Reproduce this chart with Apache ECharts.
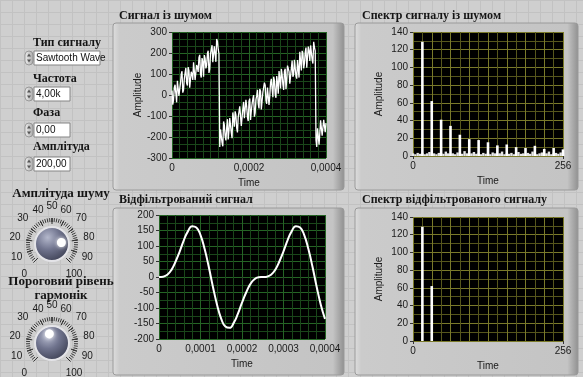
<!DOCTYPE html>
<html>
<head>
<meta charset="utf-8">
<script src="https://cdn.jsdelivr.net/npm/echarts@6/dist/echarts.min.js"></script>
<style>
html, body { margin: 0; padding: 0; }
#main {
    width: 583px; height: 377px;
    background-color: #cfcfcf;
    background-image: linear-gradient(to right, #c2c2c2 1px, transparent 1px),
                      linear-gradient(to bottom, #c2c2c2 1px, transparent 1px);
    background-size: 12px 12px;
}
</style>
</head>
<body>
<div id="main"></div>
<script>
// noisy sawtooth, one sample every 0.000002 s
const noisyStep = 0.000002;
const noisySignal = [
    21, -46, -23, 36, 49, 7, -35, 68, 77, -5, 28, 56, 99, 113, 11, 24, 77, 105, 129, 57,
    45, 133, 116, 35, 33, 111, 99, 72, 156, 154, 72, 70, 143, 132, 110, 178, 191, 99, 83, 176,
    159, 87, 190, 174, 127, 140, 198, 211, 105, 123, 196, 204, 237, 156, 164, 232, 225, 158, 267, 255,
    218, 196,
    -247, -164, -171, -227, -244, -126, -143, -195, -216, -158, -115, -212, -169, -110, -112, -179, -206, -83,
    -114, -151, -78, -95, -157, -178, -105, -97, -54, -61, -147, -139, -66, -33, -110, -111, -23, -55, -107, -124,
    -30, -17, -119, -76, -43, -19, -1, -103, -85, -22, -3, 25, -42, -64, 29, 18, -69, -76, 12, 5,
    59, 47, -25, -42, 36, 35, -47, -4, 59, 77, 31, -11, 87, 70, 3, -13, 90, 58, 6, 114,
    78, 31, 124, 97, 50, 24, 112, 125, 28, 71, 140, 148, 111, 54, 62, 126, 164, 87, 100, 168,
    162, 90, 78, 166, 159, 83, 206, 159, 117, 210, 199, 127, 150, 203, 226, 130, 128, 231, 209, 162,
    236, 234, 167, 150, 253, 227, 210,
    -215, -247, -159, -161, -237, -229, -121, -123, -194, -186, -118, -120, -177, -134
];

// filtered signal (first two harmonics), one sample every 0.00001 s
const filteredStep = 0.00001;
const filteredSignal = [
    0, 1, 7, 23, 50, 83, 119, 148, 164, 160, 135, 90, 32, -32, -90, -135, -160, -164, -148, -119,
    -83, -50, -23, -7, -1, 0, 1, 7, 23, 50, 83, 119, 148, 164, 160, 135, 90, 32, -32, -90, -135
];

// spectrum of noisy signal: harmonics
const harmonicBins = [16, 32, 48, 64, 80, 96, 112, 128, 144, 160, 176, 192, 208, 224, 240, 256];
const harmonicAmps = [129, 62, 41, 34, 24, 19, 18, 15.5, 12, 13, 10, 9, 11.5, 8, 9, 7.5];

// spectrum noise floor [bin, amplitude]
const noiseFloor = [
    [0, 3], [4, 2], [8, 3.5], [12, 2.5], [16, 3], [20, 2], [24, 3], [28, 4.5], [32, 2.5], [36, 3],
    [40, 2], [44, 3.5], [48, 3], [52, 2.5], [56, 5], [60, 3], [64, 2.5], [68, 3], [72, 2], [76, 4],
    [80, 3], [84, 2.5], [88, 5.5], [92, 3], [96, 2], [100, 3], [104, 4.5], [108, 2.5], [112, 3], [116, 2],
    [120, 3.5], [124, 2.5], [128, 3], [132, 2], [136, 4], [140, 3], [144, 2.5], [148, 3], [152, 5], [156, 2],
    [160, 3], [164, 2.5], [168, 3.5], [172, 2], [176, 3], [180, 4.5], [184, 2.5], [188, 3], [192, 2], [196, 3.5],
    [200, 2.5], [204, 5], [208, 3], [212, 2], [216, 3], [220, 4], [224, 2.5], [228, 3], [232, 5], [236, 2],
    [240, 3], [244, 3.5], [248, 2.5], [252, 4], [256, 3]
];

// spectrum of filtered signal
const filteredBins = [16, 32];
const filteredAmps = [129, 62];

// front panel controls
const signalType = 'Sawtooth Wave';
const frequencyText = '4,00k';
const phaseText = '0,00';
const amplitudeText = '200,00';
const noiseKnob = 80;
const thresholdKnob = 44;

const SANS = '"Liberation Sans", Arial, sans-serif';
const SERIF = '"Liberation Serif", "Times New Roman", serif';
const TXT = '#1a1a1a';
const GREEN_MAJOR = '#256425';
const GREEN_MINOR = '#1a461a';
const OLIVE_MAJOR = '#7a7a2a';
const OLIVE_MINOR = '#56561c';

function timeLabel(v) {
    return v === 0 ? '0' : v.toFixed(4).replace('.', ',');
}

function timeAxis(gridIndex, interval, minorCount) {
    return {
        type: 'value', gridIndex: gridIndex, min: 0, max: 0.0004, interval: interval,
        axisLine: {show: false},
        axisTick: {show: true, length: 3, lineStyle: {color: '#333'}},
        axisLabel: {color: TXT, fontSize: 10, fontFamily: SANS, margin: 5, formatter: timeLabel},
        splitLine: {show: true, lineStyle: {color: GREEN_MAJOR, width: 1}},
        minorTick: {show: false, splitNumber: minorCount},
        minorSplitLine: {show: true, lineStyle: {color: GREEN_MINOR, width: 1}},
        name: 'Time', nameLocation: 'middle', nameGap: 20,
        nameTextStyle: {color: TXT, fontSize: 10, fontFamily: SANS}
    };
}

function binAxis(gridIndex) {
    return {
        type: 'value', gridIndex: gridIndex, min: 0, max: 256, interval: 256,
        axisLine: {show: false},
        axisTick: {show: true, length: 3, lineStyle: {color: '#333'}},
        axisLabel: {color: TXT, fontSize: 10, fontFamily: SANS, margin: 5},
        splitLine: {show: false},
        name: 'Time', nameLocation: 'middle', nameGap: 20,
        nameTextStyle: {color: TXT, fontSize: 10, fontFamily: SANS}
    };
}

function binGridAxis(gridIndex) {
    return {
        type: 'value', gridIndex: gridIndex, position: 'top', min: 0, max: 256, interval: 32,
        axisLine: {show: false}, axisTick: {show: false}, axisLabel: {show: false},
        splitLine: {show: true, lineStyle: {color: OLIVE_MAJOR, width: 1}},
        minorTick: {show: false, splitNumber: 2},
        minorSplitLine: {show: true, lineStyle: {color: OLIVE_MINOR, width: 1}}
    };
}

function ampAxis(gridIndex, min, max, interval, minorCount, showName, major, minor) {
    return {
        type: 'value', gridIndex: gridIndex, min: min, max: max, interval: interval,
        axisLine: {show: false},
        axisTick: {show: true, length: 3, lineStyle: {color: '#333'}},
        axisLabel: {color: TXT, fontSize: 10, fontFamily: SANS, margin: 5},
        splitLine: {show: true, lineStyle: {color: major, width: 1}},
        minorTick: {show: false, splitNumber: minorCount},
        minorSplitLine: {show: true, lineStyle: {color: minor, width: 1}},
        name: showName ? 'Amplitude' : '', nameLocation: 'middle', nameGap: 29, nameRotate: 90,
        nameTextStyle: {color: TXT, fontSize: 10, fontFamily: SANS}
    };
}

function knob(center, value) {
    return {
        type: 'gauge', center: center, radius: 27, startAngle: 225, endAngle: -45,
        min: 0, max: 100, splitNumber: 10, z: 5,
        axisLine: {show: true, lineStyle: {width: 1, color: [[1, 'rgba(0,0,0,0)']]}},
        splitLine: {show: true, distance: 0, length: 6, lineStyle: {color: '#2a2a2a', width: 1}},
        axisTick: {show: true, splitNumber: 5, distance: 0, length: 4, lineStyle: {color: '#3a3a3a', width: 1}},
        axisLabel: {distance: -22, color: TXT, fontSize: 10, fontFamily: SANS, align: 'center', verticalAlign: 'middle'},
        anchor: {
            show: true, size: 34, showAbove: false,
            itemStyle: {
                color: new echarts.graphic.RadialGradient(0.38, 0.32, 0.75, [
                    {offset: 0, color: '#b4b8cc'},
                    {offset: 0.45, color: '#70748e'},
                    {offset: 1, color: '#383b4e'}
                ]),
                borderColor: '#e4e4e8', borderWidth: 2
            }
        },
        pointer: {
            show: true, icon: 'circle', length: 9, width: 9, offsetCenter: [0, -5],
            itemStyle: {color: '#ffffff', shadowBlur: 4, shadowColor: '#ffffff'}
        },
        progress: {show: false},
        title: {show: false}, detail: {show: false},
        animation: false,
        data: [{value: value}]
    };
}

function frame(x, y, w, h) {
    return {
        type: 'rect', z: -10,
        shape: {x: x, y: y, width: w, height: h, r: 3},
        style: {
            fill: new echarts.graphic.LinearGradient(0, 0, 1, 0, [
                {offset: 0, color: '#dedede'},
                {offset: 0.03, color: '#cbcbcb'},
                {offset: 0.95, color: '#c4c4c4'},
                {offset: 1, color: '#8f8f8f'}
            ]),
            stroke: '#9a9a9a', lineWidth: 1
        }
    };
}

function label(text, x, y, size, align) {
    return {
        type: 'text', x: x, y: y,
        style: {text: text, font: 'bold ' + size + 'px ' + SERIF, fill: '#151515',
                align: align || 'left', verticalAlign: 'middle'}
    };
}

function numericBox(text, x, y, w) {
    return {
        type: 'group',
        children: [
            {type: 'rect', shape: {x: x - 9, y: y, width: 8, height: 14, r: 4},
             style: {fill: new echarts.graphic.LinearGradient(0, 0, 1, 0, [
                 {offset: 0, color: '#f0f0f0'}, {offset: 1, color: '#a8a8a8'}]),
                 stroke: '#8a8a8a', lineWidth: 0.8}},
            {type: 'polygon', shape: {points: [[x - 5, y + 2.5], [x - 7, y + 5.5], [x - 3, y + 5.5]]},
             style: {fill: '#555'}},
            {type: 'polygon', shape: {points: [[x - 5, y + 11.5], [x - 7, y + 8.5], [x - 3, y + 8.5]]},
             style: {fill: '#555'}},
            {type: 'rect', shape: {x: x, y: y, width: w, height: 14},
             style: {fill: '#ffffff', stroke: '#858585', lineWidth: 1}},
            {type: 'text', x: x + 2, y: y + 7.5,
             style: {text: text, font: '10px ' + SANS, fill: '#111', verticalAlign: 'middle'}}
        ]
    };
}

const chart = echarts.init(document.getElementById('main'), null, {renderer: 'canvas'});

chart.setOption({
    animation: false,
    backgroundColor: 'transparent',
    graphic: [
        frame(113, 23, 231, 167),
        frame(355, 23, 223, 167),
        frame(113, 208, 231, 167),
        frame(355, 208, 223, 167),
        label('Сигнал із шумом', 119, 16, 12),
        label('Спектр сигналу із шумом', 362, 16, 12),
        label('Відфільтрований сигнал', 119, 200, 12),
        label('Спектр відфільтрованого сигналу', 362, 200, 12),
        label('Тип сигналу', 33, 43, 12),
        numericBox(signalType, 34, 51, 66),
        label('Частота', 33, 79, 12),
        numericBox(frequencyText, 34, 87, 36),
        label('Фаза', 33, 113, 12),
        numericBox(phaseText, 34, 123, 36),
        label('Амплітуда', 33, 147, 12),
        numericBox(amplitudeText, 34, 157, 36),
        label('Амплітуда шуму', 61, 194, 13, 'center'),
        label('Пороговий рівень', 61, 282, 13, 'center'),
        label('гармонік', 61, 296, 13, 'center')
    ],
    grid: [
        {left: 172, top: 32, width: 154, height: 126, show: true, backgroundColor: '#000', borderWidth: 0},
        {left: 413, top: 32, width: 150, height: 124, show: true, backgroundColor: '#000', borderWidth: 0},
        {left: 159, top: 215, width: 166, height: 124, show: true, backgroundColor: '#000', borderWidth: 0},
        {left: 413, top: 217, width: 150, height: 124, show: true, backgroundColor: '#000', borderWidth: 0}
    ],
    xAxis: [
        timeAxis(0, 0.0002, 10),
        binAxis(1),
        binGridAxis(1),
        timeAxis(2, 0.0001, 5),
        binAxis(3),
        binGridAxis(3)
    ],
    yAxis: [
        ampAxis(0, -300, 300, 100, 3, true, GREEN_MAJOR, GREEN_MINOR),
        ampAxis(1, 0, 140, 20, 2, true, OLIVE_MAJOR, OLIVE_MINOR),
        ampAxis(2, -200, 200, 50, 2, false, GREEN_MAJOR, GREEN_MINOR),
        ampAxis(3, 0, 140, 20, 2, true, OLIVE_MAJOR, OLIVE_MINOR)
    ],
    series: [
        {
            type: 'line', xAxisIndex: 0, yAxisIndex: 0, showSymbol: false,
            lineStyle: {color: '#ffffff', width: 1.3},
            data: noisySignal.map((v, i) => [i * noisyStep, v])
        },
        {
            type: 'bar', xAxisIndex: 2, yAxisIndex: 1, barWidth: 2.4,
            itemStyle: {color: '#e6e6e6'},
            data: noiseFloor
        },
        {
            type: 'bar', xAxisIndex: 1, yAxisIndex: 1, barWidth: 2.6,
            itemStyle: {color: '#ffffff'},
            data: harmonicBins.map((b, i) => [b, harmonicAmps[i]])
        },
        {
            type: 'line', xAxisIndex: 3, yAxisIndex: 2, showSymbol: false, smooth: true,
            lineStyle: {color: '#ffffff', width: 2},
            data: filteredSignal.map((v, i) => [i * filteredStep, v])
        },
        {
            type: 'bar', xAxisIndex: 4, yAxisIndex: 3, barWidth: 2.6,
            itemStyle: {color: '#ffffff'},
            data: filteredBins.map((b, i) => [b, filteredAmps[i]])
        },
        knob([52, 244], noiseKnob),
        knob([52, 343], thresholdKnob)
    ]
});
</script>
</body>
</html>
